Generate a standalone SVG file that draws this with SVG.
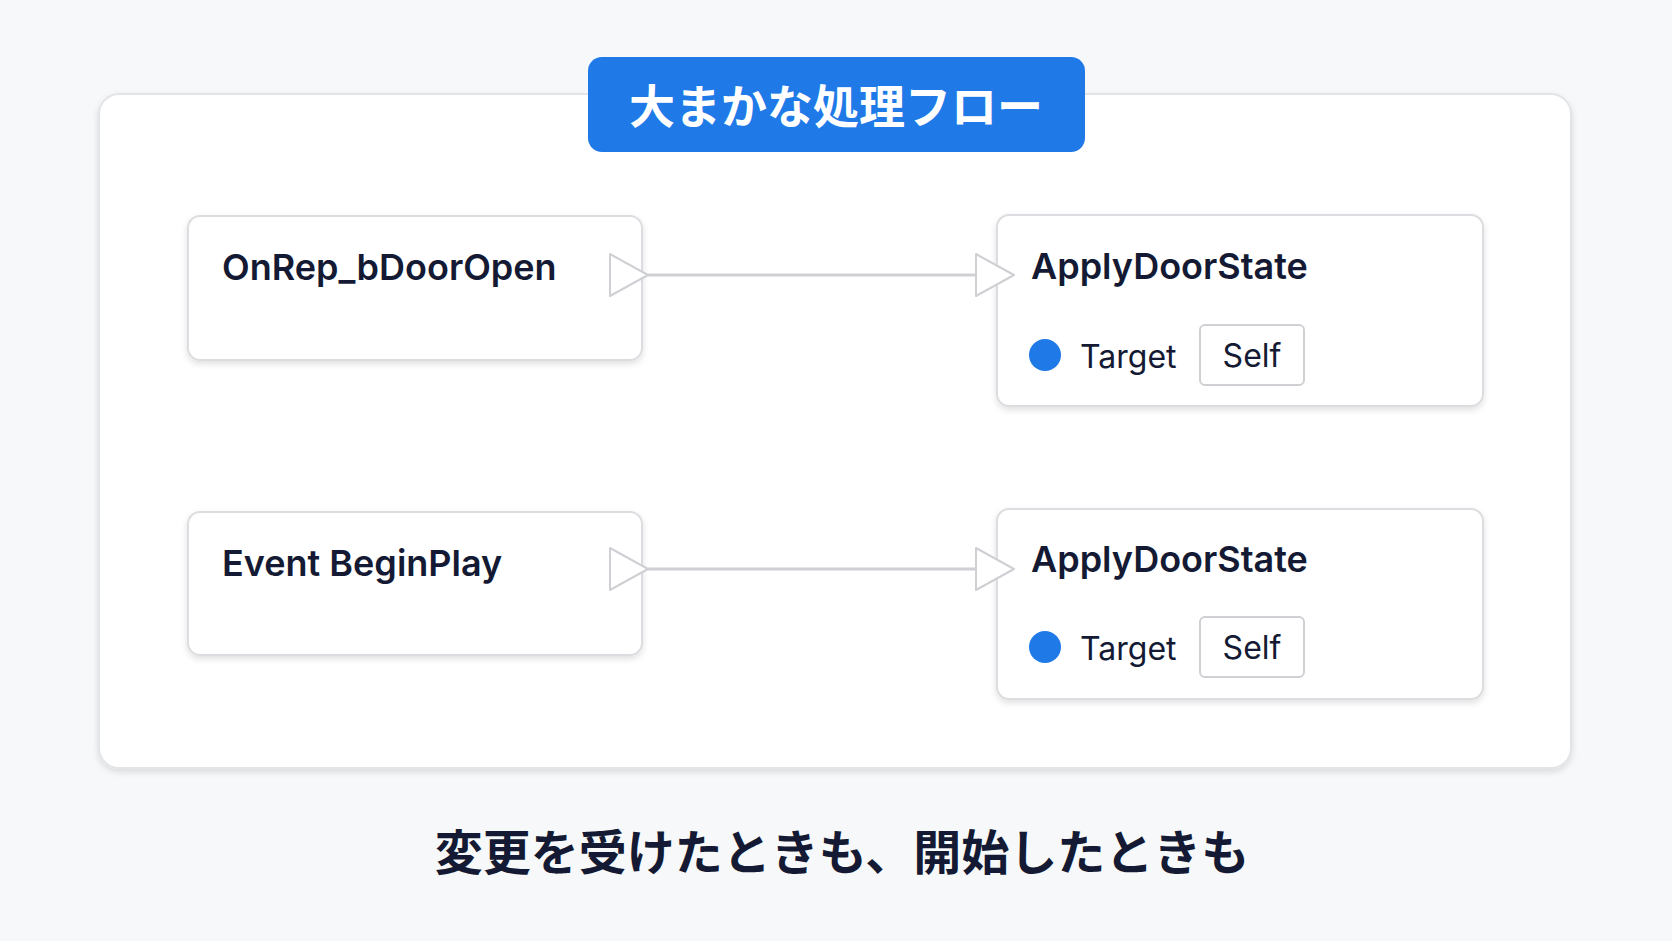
<svg xmlns="http://www.w3.org/2000/svg" width="1672" height="941" viewBox="0 0 1672 941">
<defs>
<filter id="sh" x="-10%" y="-10%" width="120%" height="130%"><feDropShadow dx="0" dy="3" stdDeviation="3" flood-color="#000" flood-opacity="0.12"/></filter>
</defs>
<style>
.node{fill:#fff;stroke:#dcdde0;stroke-width:2;filter:url(#sh)}
.t{font-family:Inter,"Noto Sans","Liberation Sans",sans-serif;font-weight:600;font-size:36px;fill:#141a33}
.lbl{font-family:Inter,"Noto Sans","Liberation Sans",sans-serif;font-size:32px;fill:#141a33}
.pin{fill:#fff;stroke:#cfd0d4;stroke-width:2;stroke-linejoin:round}
.dot{fill:#1f7ae8}
.self{fill:#fff;stroke:#cfd0d4;stroke-width:2}
.wire{stroke:#cfd0d4;stroke-width:3;fill:none}
</style>
<rect width="1672" height="941" fill="#f7f8f9"/>
<rect x="99" y="94" width="1472" height="674" rx="20" fill="#fff" stroke="#e3e4e7" stroke-width="2" filter="url(#sh)"/>
<g id="title">
<rect x="588" y="57" width="497" height="95" rx="14" fill="#1f7ae8"/>
<text x="836" y="123" text-anchor="middle" font-family="'Noto Sans CJK JP',sans-serif" font-weight="700" font-size="46" fill="#fff">大まかな処理フロー</text>
</g>
<g id="connectors">
<line class="wire" x1="648" y1="275" x2="976" y2="275"/>
<line class="wire" x1="648" y1="569" x2="976" y2="569"/>
</g>
<g id="n1">
<rect class="node" x="188" y="216" width="454" height="144" rx="12"/>
<text class="t" x="222" y="280">OnRep_bDoorOpen</text>
<polygon class="pin" points="610,254 648,275 610,296"/>
</g>
<g id="n2">
<rect class="node" x="997" y="215" width="486" height="191" rx="12"/>
<polygon class="pin" points="976,254 1014,275 976,296"/>
<text class="t" x="1031" y="279">ApplyDoorState</text>
<circle class="dot" cx="1045" cy="355" r="16"/>
<text class="lbl" x="1080" y="368">Target</text>
<rect class="self" x="1200" y="325" width="104" height="60" rx="5"/>
<text class="lbl" x="1252" y="367" text-anchor="middle">Self</text>
</g>
<g id="n3">
<rect class="node" x="188" y="512" width="454" height="143" rx="12"/>
<text class="t" x="222" y="576">Event BeginPlay</text>
<polygon class="pin" points="610,548 648,569 610,590"/>
</g>
<g id="n4">
<rect class="node" x="997" y="509" width="486" height="190" rx="12"/>
<polygon class="pin" points="976,548 1014,569 976,590"/>
<text class="t" x="1031" y="572">ApplyDoorState</text>
<circle class="dot" cx="1045" cy="647" r="16"/>
<text class="lbl" x="1080" y="660">Target</text>
<rect class="self" x="1200" y="617" width="104" height="60" rx="5"/>
<text class="lbl" x="1252" y="659" text-anchor="middle">Self</text>
</g>
<text x="842" y="870" text-anchor="middle" font-family="'Noto Sans CJK JP',sans-serif" font-weight="700" font-size="48" fill="#141a33">変更を受けたときも、開始したときも</text>
</svg>
